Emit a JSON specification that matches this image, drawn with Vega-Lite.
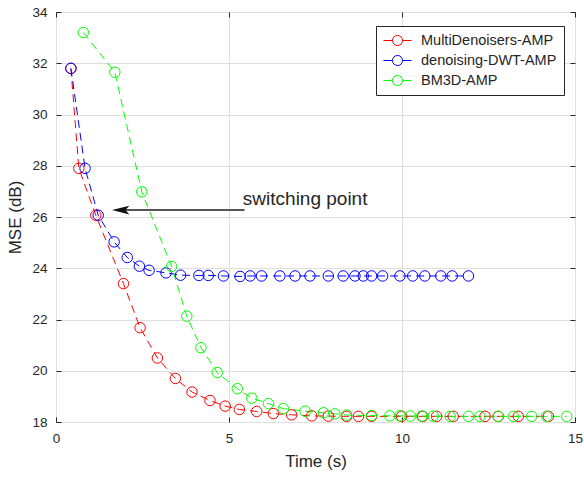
{
  "$schema": "https://vega.github.io/schema/vega-lite/v6.json",
  "autosize": "none",
  "width": 519,
  "height": 410,
  "padding": {"left": 56, "top": 12, "right": 9, "bottom": 57},
  "background": "white",
  "config": {
    "view": {"stroke": "#262626", "strokeWidth": 1},
    "font": "Liberation Sans",
    "axis": {
      "labelFont": "Liberation Sans", "titleFont": "Liberation Sans",
      "labelColor": "#262626", "titleColor": "#262626",
      "labelFontSize": 13.5, "titleFontSize": 17, "titleFontWeight": "normal",
      "gridColor": "#dfdfdf", "gridWidth": 1,
      "domain": false, "tickColor": "#262626", "tickSize": -5
    }
  },
  "datasets": {
    "main": [
      {"series": "MultiDenoisers-AMP", "x": 0.43, "y": 31.8},
      {"series": "MultiDenoisers-AMP", "x": 0.66, "y": 27.9},
      {"series": "MultiDenoisers-AMP", "x": 1.15, "y": 26.07},
      {"series": "MultiDenoisers-AMP", "x": 1.95, "y": 23.4},
      {"series": "MultiDenoisers-AMP", "x": 2.43, "y": 21.68},
      {"series": "MultiDenoisers-AMP", "x": 2.93, "y": 20.5},
      {"series": "MultiDenoisers-AMP", "x": 3.45, "y": 19.7},
      {"series": "MultiDenoisers-AMP", "x": 3.93, "y": 19.17},
      {"series": "MultiDenoisers-AMP", "x": 4.45, "y": 18.84},
      {"series": "MultiDenoisers-AMP", "x": 4.89, "y": 18.62},
      {"series": "MultiDenoisers-AMP", "x": 5.3, "y": 18.49},
      {"series": "MultiDenoisers-AMP", "x": 5.8, "y": 18.41},
      {"series": "MultiDenoisers-AMP", "x": 6.28, "y": 18.33},
      {"series": "MultiDenoisers-AMP", "x": 6.81, "y": 18.28},
      {"series": "MultiDenoisers-AMP", "x": 7.39, "y": 18.24},
      {"series": "MultiDenoisers-AMP", "x": 7.87, "y": 18.23},
      {"series": "MultiDenoisers-AMP", "x": 8.4, "y": 18.22},
      {"series": "MultiDenoisers-AMP", "x": 8.74, "y": 18.22},
      {"series": "MultiDenoisers-AMP", "x": 9.12, "y": 18.22},
      {"series": "MultiDenoisers-AMP", "x": 9.99, "y": 18.22},
      {"series": "MultiDenoisers-AMP", "x": 10.6, "y": 18.22},
      {"series": "MultiDenoisers-AMP", "x": 11.0, "y": 18.22},
      {"series": "MultiDenoisers-AMP", "x": 11.48, "y": 18.22},
      {"series": "MultiDenoisers-AMP", "x": 12.4, "y": 18.22},
      {"series": "MultiDenoisers-AMP", "x": 12.78, "y": 18.22},
      {"series": "MultiDenoisers-AMP", "x": 13.36, "y": 18.22},
      {"series": "MultiDenoisers-AMP", "x": 14.23, "y": 18.22},
      {"series": "denoising-DWT-AMP", "x": 0.43, "y": 31.8},
      {"series": "denoising-DWT-AMP", "x": 0.84, "y": 27.9},
      {"series": "denoising-DWT-AMP", "x": 1.22, "y": 26.07},
      {"series": "denoising-DWT-AMP", "x": 1.68, "y": 25.03},
      {"series": "denoising-DWT-AMP", "x": 2.06, "y": 24.42},
      {"series": "denoising-DWT-AMP", "x": 2.41, "y": 24.08},
      {"series": "denoising-DWT-AMP", "x": 2.69, "y": 23.92},
      {"series": "denoising-DWT-AMP", "x": 3.18, "y": 23.82},
      {"series": "denoising-DWT-AMP", "x": 3.6, "y": 23.73},
      {"series": "denoising-DWT-AMP", "x": 4.13, "y": 23.72},
      {"series": "denoising-DWT-AMP", "x": 4.4, "y": 23.72},
      {"series": "denoising-DWT-AMP", "x": 4.84, "y": 23.7},
      {"series": "denoising-DWT-AMP", "x": 5.32, "y": 23.68},
      {"series": "denoising-DWT-AMP", "x": 5.61, "y": 23.7},
      {"series": "denoising-DWT-AMP", "x": 5.94, "y": 23.7},
      {"series": "denoising-DWT-AMP", "x": 6.47, "y": 23.7},
      {"series": "denoising-DWT-AMP", "x": 6.91, "y": 23.7},
      {"series": "denoising-DWT-AMP", "x": 7.34, "y": 23.7},
      {"series": "denoising-DWT-AMP", "x": 7.87, "y": 23.7},
      {"series": "denoising-DWT-AMP", "x": 8.3, "y": 23.7},
      {"series": "denoising-DWT-AMP", "x": 8.64, "y": 23.7},
      {"series": "denoising-DWT-AMP", "x": 8.88, "y": 23.7},
      {"series": "denoising-DWT-AMP", "x": 9.12, "y": 23.7},
      {"series": "denoising-DWT-AMP", "x": 9.44, "y": 23.7},
      {"series": "denoising-DWT-AMP", "x": 9.94, "y": 23.7},
      {"series": "denoising-DWT-AMP", "x": 10.31, "y": 23.7},
      {"series": "denoising-DWT-AMP", "x": 10.66, "y": 23.7},
      {"series": "denoising-DWT-AMP", "x": 11.12, "y": 23.7},
      {"series": "denoising-DWT-AMP", "x": 11.45, "y": 23.7},
      {"series": "denoising-DWT-AMP", "x": 11.92, "y": 23.7},
      {"series": "BM3D-AMP", "x": 0.79, "y": 33.2},
      {"series": "BM3D-AMP", "x": 1.7, "y": 31.65},
      {"series": "BM3D-AMP", "x": 2.48, "y": 26.98},
      {"series": "BM3D-AMP", "x": 3.34, "y": 24.07},
      {"series": "BM3D-AMP", "x": 3.78, "y": 22.13},
      {"series": "BM3D-AMP", "x": 4.19, "y": 20.9},
      {"series": "BM3D-AMP", "x": 4.66, "y": 19.93},
      {"series": "BM3D-AMP", "x": 5.24, "y": 19.3},
      {"series": "BM3D-AMP", "x": 5.66, "y": 18.93},
      {"series": "BM3D-AMP", "x": 6.14, "y": 18.72},
      {"series": "BM3D-AMP", "x": 6.57, "y": 18.52},
      {"series": "BM3D-AMP", "x": 7.2, "y": 18.42},
      {"series": "BM3D-AMP", "x": 7.73, "y": 18.36},
      {"series": "BM3D-AMP", "x": 8.06, "y": 18.32},
      {"series": "BM3D-AMP", "x": 8.4, "y": 18.27},
      {"series": "BM3D-AMP", "x": 9.12, "y": 18.25},
      {"series": "BM3D-AMP", "x": 9.65, "y": 18.24},
      {"series": "BM3D-AMP", "x": 9.94, "y": 18.24},
      {"series": "BM3D-AMP", "x": 10.24, "y": 18.23},
      {"series": "BM3D-AMP", "x": 10.57, "y": 18.23},
      {"series": "BM3D-AMP", "x": 10.9, "y": 18.23},
      {"series": "BM3D-AMP", "x": 11.39, "y": 18.22},
      {"series": "BM3D-AMP", "x": 11.92, "y": 18.22},
      {"series": "BM3D-AMP", "x": 12.25, "y": 18.22},
      {"series": "BM3D-AMP", "x": 12.78, "y": 18.22},
      {"series": "BM3D-AMP", "x": 13.22, "y": 18.22},
      {"series": "BM3D-AMP", "x": 13.75, "y": 18.22},
      {"series": "BM3D-AMP", "x": 14.18, "y": 18.22},
      {"series": "BM3D-AMP", "x": 14.76, "y": 18.22}
    ],
    "arrow": [{"x": 1.87, "x2": 5.45, "y": 26.27, "label": "switching point", "tx": 5.4}]
  },
  "layer": [
    {
      "data": {"name": "main"},
      "mark": {"type": "line", "strokeDash": [8, 5], "strokeWidth": 1},
      "encoding": {
        "x": {"field": "x", "type": "quantitative", "scale": {"domain": [0, 15], "nice": false, "zero": false},
              "axis": {"values": [0, 5, 10, 15], "title": "Time (s)", "titlePadding": 9, "labelPadding": 14, "labelFlush": false}},
        "y": {"field": "y", "type": "quantitative", "scale": {"domain": [18, 34], "nice": false, "zero": false},
              "axis": {"values": [18, 20, 22, 24, 26, 28, 30, 32, 34], "title": "MSE (dB)", "titlePadding": 7, "labelPadding": 14, "labelFlush": false}},
        "color": {"field": "series", "type": "nominal",
                  "scale": {"domain": ["MultiDenoisers-AMP", "denoising-DWT-AMP", "BM3D-AMP"], "range": ["#ff0000", "#0000ff", "#00ff00"]},
                  "legend": {"title": null, "orient": "none", "legendX": 320, "legendY": 14,
                             "strokeColor": "#262626", "fillColor": "white", "padding": 7,
                             "symbolType": "M-1,0L0.28,0M1.72,0L3,0M1.72,0A0.72,0.72 0 1,1 0.28,0A0.72,0.72 0 1,1 1.72,0",
                             "symbolSize": 196, "symbolStrokeWidth": 1, "symbolFillColor": "transparent", "symbolDash": [],
                             "labelFont": "Liberation Sans", "labelFontSize": 14.5, "labelColor": "#262626",
                             "rowPadding": 4, "labelOffset": 23}},
        "order": {"field": "x", "type": "quantitative"}
      }
    },
    {
      "data": {"name": "main"},
      "mark": {"type": "point", "filled": false, "size": 110, "strokeWidth": 1, "opacity": 1},
      "encoding": {
        "x": {"field": "x", "type": "quantitative", "axis": {"orient": "top", "values": [0, 5, 10, 15], "labels": false, "title": null, "grid": false}},
        "y": {"field": "y", "type": "quantitative", "axis": {"orient": "right", "values": [18, 20, 22, 24, 26, 28, 30, 32, 34], "labels": false, "title": null, "grid": false}},
        "color": {"field": "series", "type": "nominal"}
      }
    },
    {
      "data": {"name": "arrow"},
      "mark": {"type": "rule", "color": "#555555", "strokeWidth": 2},
      "encoding": {
        "x": {"field": "x", "type": "quantitative", "axis": null},
        "x2": {"field": "x2"},
        "y": {"field": "y", "type": "quantitative", "axis": null}
      }
    },
    {
      "data": {"name": "arrow"},
      "mark": {"type": "point", "filled": true, "color": "#111111", "opacity": 1, "size": 300,
               "shape": "M-1,0L1,-0.5L0.55,0L1,0.5Z"},
      "encoding": {
        "x": {"field": "x", "type": "quantitative", "axis": null},
        "y": {"field": "y", "type": "quantitative", "axis": null}
      }
    },
    {
      "data": {"name": "arrow"},
      "mark": {"type": "text", "align": "left", "baseline": "alphabetic", "dy": -5, "fontSize": 19, "color": "#262626", "font": "Liberation Sans"},
      "encoding": {
        "x": {"field": "tx", "type": "quantitative", "axis": null},
        "y": {"field": "y", "type": "quantitative", "axis": null},
        "text": {"field": "label"}
      }
    }
  ],
  "resolve": {"axis": {"x": "independent", "y": "independent"}}
}
